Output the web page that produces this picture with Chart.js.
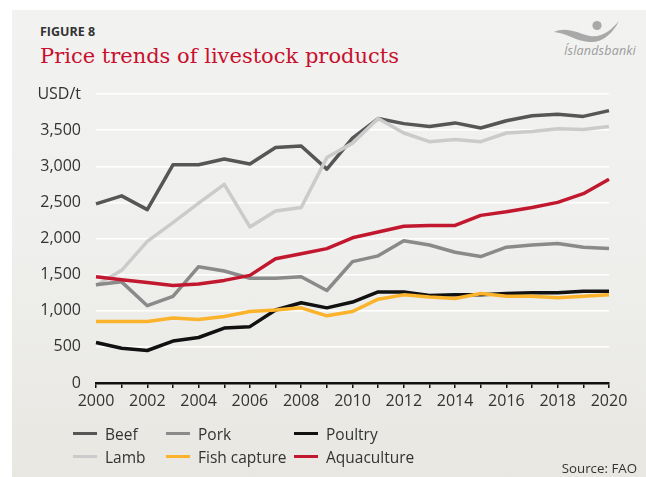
<!DOCTYPE html>
<html>
<head>
<meta charset="utf-8">
<script src="https://cdn.jsdelivr.net/npm/chart.js@4.4.1/dist/chart.umd.min.js"></script>
<style>
  html, body { margin: 0; padding: 0; background: #fff; }
  #page { position: relative; width: 646px; height: 477px; overflow: hidden; font-family: "Open Sans", sans-serif; }
  #panel { position: absolute; left: 12px; top: 10px; right: 0; bottom: 0;
    background: linear-gradient(to bottom, #f2f2f1 0%, #efefed 50%, #e8e7e2 100%); }
  #chart { position: absolute; left: 0; top: 0; }
  #figno { position: absolute; left: 40px; top: 23.6px; font-weight: 700; font-size: 12.5px; line-height: 15px; color: #333; }
  #title { position: absolute; left: 40px; top: 44.4px; font-family: "DejaVu Serif", serif; font-size: 21px; line-height: 24px; color: #c8102e; }
  #logo { position: absolute; left: 548px; top: 14px; }
  #logoText { position: absolute; left: 564px; top: 42px; font-style: italic; font-size: 12.5px; line-height: 17px; color: #9b9b9b; letter-spacing: 0.2px; }
  #legend { position: absolute; left: 73px; top: 422px; display: grid; grid-template-columns: 93px 128px auto; grid-auto-rows: 23px; font-size: 15.5px; color: #333; }
  .item { display: flex; align-items: center; white-space: nowrap; }
  .swatch { width: 24px; height: 3px; margin-right: 8px; }
  #source { position: absolute; right: 9px; top: 459px; font-size: 13.3px; line-height: 19px; color: #333; }
</style>
</head>
<body>
<div id="page">
  <div id="panel"></div>
  <div id="figno">FIGURE 8</div>
  <div id="title">Price trends of livestock products</div>
  <svg id="logo" width="80" height="36" viewBox="548 14 80 36">
    <path d="M554,32 C566,26 578,33 590,36 C602,38 611,30 619,21 C613,33 603,43 589,42 C576,41 566,33 554,32 Z" fill="#a9a9a9"/>
    <circle cx="597" cy="25.5" r="4.6" fill="#a9a9a9"/>
  </svg>
  <div id="logoText">Íslandsbanki</div>
  <canvas id="chart" width="646" height="477"></canvas>
  <div id="legend"></div>
  <div id="source">Source: FAO</div>
</div>
<script>
// USD per tonne, FAO
const years = ["2000", "2001", "2002", "2003", "2004", "2005", "2006", "2007", "2008", "2009", "2010",
  "2011", "2012", "2013", "2014", "2015", "2016", "2017", "2018", "2019", "2020"];
const beef = [2480, 2590, 2400, 3020, 3020, 3100, 3030, 3260, 3280, 2960, 3390, 3660, 3590, 3550, 3600, 3530, 3630, 3700, 3720, 3690, 3770];
const lamb = [1350, 1560, 1960, 2220, 2490, 2750, 2160, 2380, 2430, 3120, 3320, 3660, 3460, 3340, 3370, 3340, 3460, 3480, 3520, 3510, 3550];
const pork = [1360, 1400, 1070, 1200, 1610, 1550, 1450, 1450, 1470, 1280, 1680, 1760, 1970, 1910, 1810, 1750, 1880, 1910, 1930, 1880, 1860];
const poultry = [560, 480, 450, 580, 630, 760, 780, 1010, 1110, 1040, 1120, 1260, 1260, 1210, 1220, 1220, 1240, 1250, 1250, 1270, 1270];
const fishCapture = [850, 850, 850, 900, 880, 920, 990, 1010, 1040, 930, 990, 1160, 1220, 1190, 1170, 1240, 1200, 1200, 1180, 1200, 1220];
const aquaculture = [1470, 1430, 1390, 1350, 1370, 1420, 1490, 1720, 1790, 1860, 2010, 2090, 2170, 2180, 2180, 2320, 2370, 2430, 2500, 2620, 2820];

const yMax = 4000;
const yStep = 500;
const unitLabel = "USD/t";

const tickFont = { family: "'Open Sans', sans-serif", size: 16 };

// legend order is row by row: Beef, Pork, Poultry / Lamb, Fish capture, Aquaculture
const series = [
  { label: "Beef", data: beef, color: "#565656", order: 5 },
  { label: "Pork", data: pork, color: "#8a8a8a", order: 3 },
  { label: "Poultry", data: poultry, color: "#111111", order: 2 },
  { label: "Lamb", data: lamb, color: "#cbcbcb", order: 4 },
  { label: "Fish capture", data: fishCapture, color: "#fbb32b", order: 1 },
  { label: "Aquaculture", data: aquaculture, color: "#c2182f", order: 0 },
];

const chart = new Chart(document.getElementById("chart"), {
  type: "line",
  data: {
    labels: years,
    datasets: series.map((s) => ({
      label: s.label,
      data: s.data,
      borderColor: s.color,
      backgroundColor: s.color,
      borderWidth: 3.5,
      borderJoinStyle: "round",
      pointRadius: 0,
      tension: 0,
      order: s.order,
    })),
  },
  options: {
    responsive: false,
    animation: false,
    layout: { padding: { left: 0, right: 37, top: 94, bottom: 64 } },
    plugins: { legend: { display: false }, tooltip: { enabled: false } },
    scales: {
      x: {
        type: "category",
        offset: false,
        afterFit: (scale) => { scale.height = 30; },
        grid: { drawOnChartArea: false, drawTicks: true, tickLength: 5, color: "#111", lineWidth: 1.5 },
        border: { display: true, color: "#111", width: 2.5 },
        ticks: {
          autoSkip: false,
          maxRotation: 0,
          padding: 4,
          color: "#333",
          font: tickFont,
          callback: function (val, i) {
            return i % 2 === 0 ? this.getLabelForValue(val) : "";
          },
        },
      },
      y: {
        min: 0,
        max: yMax,
        afterFit: (scale) => { scale.width = 96; },
        grid: {
          drawTicks: false,
          lineWidth: 1.5,
          color: (ctx) => (ctx.tick && ctx.tick.value === 0 ? "rgba(0,0,0,0)" : "#ffffff"),
        },
        border: { display: false },
        ticks: {
          stepSize: yStep,
          padding: 15,
          color: "#333",
          font: tickFont,
          callback: (v) => (v === yMax ? unitLabel : v.toLocaleString("en-US")),
        },
      },
    },
  },
});

// html legend built from the datasets
const legendBox = document.getElementById("legend");
chart.data.datasets.forEach((ds) => {
  const item = document.createElement("div");
  item.className = "item";
  item.innerHTML = `<span class="swatch" style="background:${ds.borderColor}"></span><span>${ds.label}</span>`;
  legendBox.appendChild(item);
});
</script>
</body>
</html>
